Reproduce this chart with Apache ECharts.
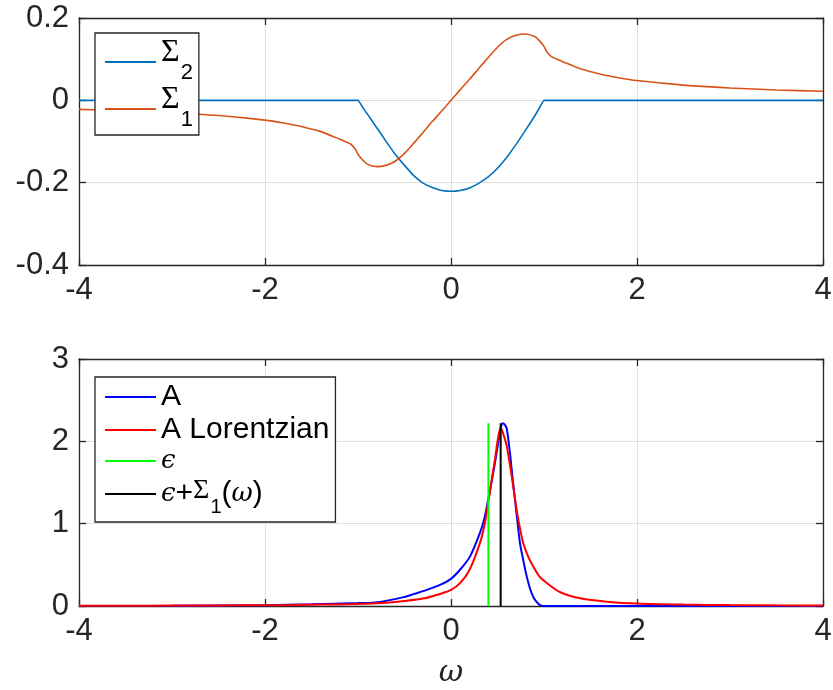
<!DOCTYPE html>
<html>
<head>
<meta charset="utf-8">
<script src="https://cdn.jsdelivr.net/npm/echarts@6/dist/echarts.min.js"></script>
<style>
  html, body { margin: 0; padding: 0; background: #fff; }
  #chart { width: 833px; height: 690px; }
</style>
</head>
<body>
<div id="chart"></div>
<script>
// self-energy panel
const sigmaX = [-4, -3.5, -3, -2.5, -2, -1.8, -1.6, -1.4, -1.2, -1.15, -1.08, -1.03, -1, -0.95, -0.9, -0.8, -0.7, -0.6, -0.5, -0.4, -0.3, -0.2, -0.1,
  0, 0.1, 0.2, 0.3, 0.4, 0.5, 0.6, 0.7, 0.8, 0.9, 0.95, 1, 1.03, 1.08, 1.15, 1.2, 1.4, 1.6, 1.8, 2, 2.5, 3, 3.5, 4]
const sigma2 = [0, 0, 0, 0, 0, 0, 0, 0, 0, 0, 0, 0, 0, -0.017, -0.033, -0.066, -0.099, -0.131, -0.158, -0.183, -0.201, -0.212, -0.219,
  -0.221, -0.219, -0.213, -0.201, -0.186, -0.165, -0.138, -0.107, -0.073, -0.038, -0.019, 0, 0, 0, 0, 0, 0, 0, 0, 0, 0, 0, 0, 0]
const sigma1 = [-0.022, -0.025, -0.030, -0.037, -0.048, -0.055, -0.064, -0.076, -0.094, -0.099, -0.106, -0.118, -0.131, -0.145, -0.155, -0.161, -0.158, -0.148, -0.129, -0.104, -0.078, -0.051, -0.026,
  0, 0.026, 0.051, 0.078, 0.104, 0.129, 0.148, 0.158, 0.161, 0.155, 0.145, 0.131, 0.118, 0.106, 0.099, 0.094, 0.076, 0.064, 0.055, 0.048, 0.037, 0.030, 0.025, 0.022]

// spectral function panel
const specX = [-4, -3, -2, -1.5, -1, -0.76, -0.5, -0.4, -0.3, -0.118, 0, 0.097, 0.204, 0.312, 0.36, 0.4, 0.44, 0.473, 0.5, 0.527,
  0.556, 0.58, 0.6, 0.634, 0.66, 0.688, 0.715, 0.742, 0.78, 0.814, 0.85, 0.885, 0.92, 0.957, 0.99, 2, 4]
const specA = [0, 0.003, 0.01, 0.02, 0.035, 0.05, 0.11, 0.145, 0.18, 0.256, 0.33, 0.44, 0.6, 0.89, 1.07, 1.29, 1.53, 1.74, 1.93, 2.11,
  2.22, 2.2, 2.15, 1.86, 1.58, 1.29, 1.02, 0.76, 0.54, 0.36, 0.21, 0.11, 0.05, 0.01, 0, 0, 0]
const lorX = [-4, -3.5, -3, -2.5, -2, -1.7, -1.4, -1, -0.7, -0.5, -0.3, -0.118, 0, 0.1, 0.2, 0.31, 0.36, 0.4, 0.44, 0.473,
  0.5, 0.534, 0.57, 0.6, 0.652, 0.706, 0.74, 0.778, 0.83, 0.885, 0.95, 1.03, 1.17, 1.4, 1.7, 2, 2.5, 3, 3.5, 4]
const lorA = [0.003, 0.004, 0.005, 0.007, 0.009, 0.012, 0.017, 0.025, 0.04, 0.06, 0.09, 0.146, 0.195, 0.28, 0.44, 0.76, 0.98, 1.25, 1.55, 1.78,
  2.0, 2.167, 2.06, 1.94, 1.58, 1.17, 0.95, 0.76, 0.6, 0.48, 0.36, 0.28, 0.17, 0.09, 0.05, 0.03, 0.017, 0.011, 0.008, 0.006]
const epsilon = 0.402
const epsSigma1 = 0.534
const markerTop = 2.22

const xTicks = [-4, -2, 0, 2, 4]
const yTicksTop = [-0.4, -0.2, 0, 0.2]
const yTicksBottom = [0, 1, 2, 3]

const axisColor = '#262626'
const gridColor = '#dfdfdf'
const sans = 'Liberation Sans, Arial, sans-serif'
const serif = 'DejaVu Serif, serif'

function zip(xs, ys) {
  return xs.map((x, i) => [x, ys[i]])
}

function valueAxis(ticks, gridIndex, position, main, extra) {
  return Object.assign({
    type: 'value', gridIndex, position,
    min: ticks[0], max: ticks[ticks.length - 1], interval: ticks[1] - ticks[0],
    axisLine: { show: true, onZero: false, lineStyle: { color: axisColor, width: 1.3 } },
    axisTick: { show: true, inside: true, length: 7, lineStyle: { color: axisColor, width: 1.3 } },
    axisLabel: { show: main, color: axisColor, fontSize: 31, fontFamily: sans, margin: 10 },
    splitLine: { show: main, lineStyle: { color: gridColor, width: 1 } }
  }, extra || {})
}

const rich = {
  g: { fontFamily: 'Liberation Serif, serif', fontSize: 32, color: '#000', padding: [0, 0, 18, 0] },
  s: { fontFamily: sans, fontSize: 22, color: '#000', padding: [22, 0, 0, 1] },
  g1: { fontFamily: 'Liberation Serif, serif', fontSize: 28, color: '#000', padding: [0, 0, 6, 0] },
  s1: { fontFamily: sans, fontSize: 20, color: '#000', padding: [26, 0, 0, 1] },
  e: { fontFamily: serif, fontStyle: 'italic', fontSize: 26, color: '#000' },
  t: { fontFamily: sans, fontSize: 30, color: '#000' }
}

const labels = {
  sigma2: '{g|Σ}{s|2}',
  sigma1: '{g|Σ}{s|1}',
  'A': '{t|A}',
  'A Lorentzian': '{t|A Lorentzian}',
  eps: '{e|ϵ}',
  epsSigma: '{e|ϵ}{t|+}{g1|Σ}{s1|1}{t|(}{e|ω}{t|)}'
}

function legendBox(names, top, itemGap, padding) {
  return {
    data: names, orient: 'vertical', left: 95, top,
    icon: 'rect', itemWidth: 51, itemHeight: 2, itemGap, padding,
    backgroundColor: '#fff', borderColor: axisColor, borderWidth: 1.3, borderRadius: 0,
    selectedMode: false,
    formatter: (name) => labels[name],
    textStyle: { rich, fontSize: 30, fontFamily: sans, color: '#000' }
  }
}

function lineSeries(name, data, color, width, xi, yi, smooth) {
  return {
    name, type: 'line', data, xAxisIndex: xi, yAxisIndex: yi,
    symbol: 'none', smooth: smooth || false,
    lineStyle: { color, width }, itemStyle: { color }
  }
}

const chart = echarts.init(document.getElementById('chart'))
chart.setOption({
  animation: false,
  backgroundColor: '#fff',
  grid: [
    { left: 79, top: 18, width: 744, height: 247, outerBoundsMode: 'none' },
    { left: 79, top: 359, width: 744, height: 247, outerBoundsMode: 'none' }
  ],
  xAxis: [
    valueAxis(xTicks, 0, 'bottom', true),
    valueAxis(xTicks, 0, 'top', false),
    valueAxis(xTicks, 1, 'bottom', true, {
      name: 'ω', nameLocation: 'middle', nameGap: 52,
      nameTextStyle: { fontFamily: serif, fontStyle: 'italic', fontSize: 30, color: axisColor }
    }),
    valueAxis(xTicks, 1, 'top', false)
  ],
  yAxis: [
    valueAxis(yTicksTop, 0, 'left', true),
    valueAxis(yTicksTop, 0, 'right', false),
    valueAxis(yTicksBottom, 1, 'left', true),
    valueAxis(yTicksBottom, 1, 'right', false)
  ],
  legend: [
    legendBox(['sigma2', 'sigma1'], 33, 0, [4, 6, 4, 10]),
    legendBox(['A', 'A Lorentzian', 'eps', 'epsSigma'], 377, 3, [5, 6, 5, 10])
  ],
  series: [
    lineSeries('sigma2', zip(sigmaX, sigma2), '#0072BD', 1.6, 0, 0, 0.15),
    lineSeries('sigma1', zip(sigmaX, sigma1), '#D95319', 1.6, 0, 0, 0.2),
    lineSeries('A', zip(specX, specA), '#0000FF', 2, 2, 2, 0.3),
    lineSeries('A Lorentzian', zip(lorX, lorA), '#FF0000', 2, 2, 2, 0.3),
    lineSeries('eps', [[epsilon, 0], [epsilon, markerTop]], '#00FF00', 2, 2, 2),
    lineSeries('epsSigma', [[epsSigma1, 0], [epsSigma1, markerTop]], '#000000', 2, 2, 2)
  ]
})
</script>
</body>
</html>
